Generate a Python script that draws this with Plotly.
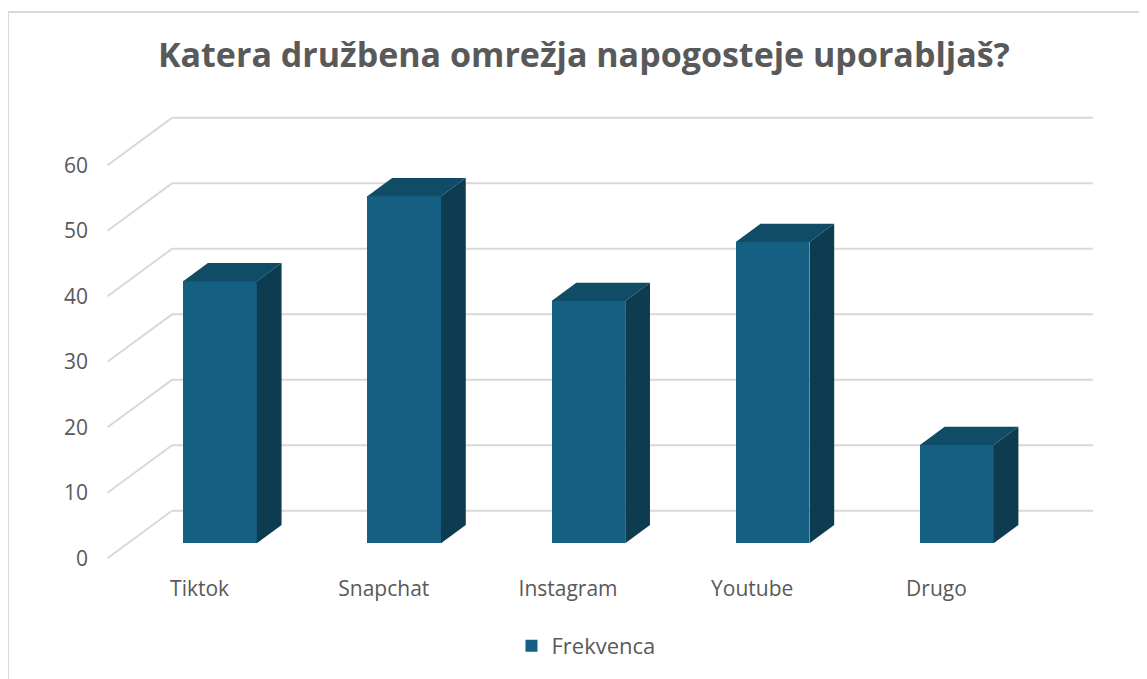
import plotly.graph_objects as go

# ---- data ----
categories = ["Tiktok", "Snapchat", "Instagram", "Youtube", "Drugo"]
values = [40, 53, 37, 46, 15]
series_name = "Frekvenca"
y_ticks = [0, 10, 20, 30, 40, 50, 60]
title_text = "Katera družbena omrežja napogosteje uporabljaš?"

# ---- style / pseudo-3D geometry (in axis units) ----
FRONT = "#156082"
TOP = "#114C67"
SIDE = "#0D3C51"
GRID = "#D9D9D9"
TXT = "#595959"
FONT = "Open Sans"

DX = 0.35      # full floor depth, horizontal (category units)
DY = 7.25      # full floor depth, vertical (value units)
F1, F2 = 0.316, 0.70   # bar front / back depth fractions
BW = 0.40      # bar width (category units)

fig = go.Figure()
n = len(categories)

# back wall gridlines + left wall diagonals (below the bars)
for t in y_ticks:
    fig.add_shape(type="line", xref="x", yref="y", layer="below",
                  x0=-0.5, y0=t, x1=-0.5 + DX, y1=t + DY,
                  line=dict(color=GRID, width=2))
    fig.add_shape(type="line", xref="x", yref="y", layer="below",
                  x0=-0.5 + DX, y0=t + DY, x1=n - 0.5 + DX, y1=t + DY,
                  line=dict(color=GRID, width=2))

# bars
ox, oy = F1 * DX, F1 * DY
ddx, ddy = (F2 - F1) * DX, (F2 - F1) * DY
xs = list(range(n))
fig.add_trace(go.Bar(
    x=[i + ox for i in xs], y=values, base=[oy] * n, width=BW,
    marker=dict(color=FRONT, line=dict(width=0)), name=series_name,
    showlegend=True))
for i, v in zip(xs, values):
    cx = i + ox
    l, r = cx - BW / 2, cx + BW / 2
    b, t = oy, oy + v
    # top face
    fig.add_trace(go.Scatter(
        x=[l, r, r + ddx, l + ddx, l], y=[t, t, t + ddy, t + ddy, t],
        fill="toself", fillcolor=TOP, mode="lines", line=dict(width=0, color=TOP),
        hoverinfo="skip", showlegend=False))
    # side face
    fig.add_trace(go.Scatter(
        x=[r, r + ddx, r + ddx, r, r], y=[b, b + ddy, t + ddy, t, b],
        fill="toself", fillcolor=SIDE, mode="lines", line=dict(width=0, color=SIDE),
        hoverinfo="skip", showlegend=False))

# chart-area border (top + left)
fig.add_shape(type="line", xref="paper", yref="paper",
              x0=-0.0914, x1=1.2, y0=1.1837, y1=1.1837,
              line=dict(color=GRID, width=2))
fig.add_shape(type="line", xref="paper", yref="paper",
              x0=-0.0914, x1=-0.0914, y0=1.1837, y1=-0.3,
              line=dict(color=GRID, width=2))

fig.add_annotation(text="<b>" + title_text + "</b>", xref="paper", yref="paper",
                   x=0.4809, y=1.096, xanchor="center", yanchor="middle",
                   showarrow=False, font=dict(family=FONT, size=34, color=TXT))

fig.update_layout(
    width=1147, height=679,
    margin=dict(l=92, r=48, t=92, b=108),
    paper_bgcolor="white", plot_bgcolor="white",
    font=dict(family=FONT, size=21, color=TXT),
    bargap=0,
    xaxis=dict(range=[-0.5407, 4.926], tickvals=xs, ticktext=categories,
               showgrid=False, zeroline=False, showline=False, ticks="",
               ticklabelstandoff=-5,
               tickfont=dict(size=21, color=TXT), fixedrange=True),
    yaxis=dict(range=[-3.16, 69.97], tickvals=y_ticks, showgrid=False,
               zeroline=False, showline=False, ticks="",
               ticklabelstandoff=11,
               tickfont=dict(size=21, color=TXT), fixedrange=True),
    legend=dict(orientation="h", x=0.4826, y=-0.14, xanchor="center",
                yanchor="middle", font=dict(size=22, color=TXT)),
    showlegend=True,
)

fig.write_html("out.html")
